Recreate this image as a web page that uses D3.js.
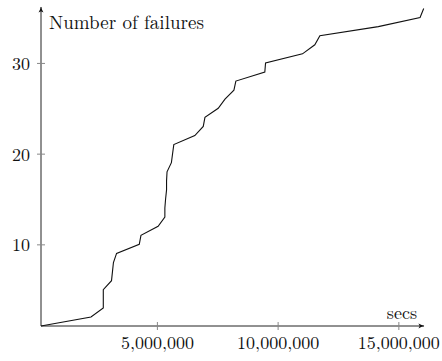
<!DOCTYPE html>
<html>
<head>
<meta charset="utf-8">
<script src="https://cdn.jsdelivr.net/npm/d3@7"></script>
<style>
  body { margin: 0; background: #fff; }
</style>
</head>
<body>
<div id="chart"></div>
<script>
// cumulative failures over time (secs)
var times = [200000, 2270000, 2780000, 2780000, 2780000, 3120000, 3160000, 3200000, 3330000,
             4270000, 4340000, 5050000, 5330000, 5330000, 5360000, 5400000, 5400000, 5420000,
             5600000, 5650000, 5700000, 6570000, 6920000, 6990000, 7540000, 7820000, 8190000,
             8270000, 9470000, 9500000, 11030000, 11540000, 11750000, 14170000, 15900000, 16050000];
var failures = [1, 2, 3, 4, 5, 6, 7, 8, 9, 10, 11, 12, 13, 14, 15, 16, 17, 18,
                19, 20, 21, 22, 23, 24, 25, 26, 27, 28, 29, 30, 31, 32, 33, 34, 35, 36];
var xTicks = [5000000, 10000000, 15000000];
var yTicks = [10, 20, 30];

var font = "'Latin Modern Roman', 'CMU Serif', 'Liberation Serif', serif";
var width = 442, height = 361;

var svg = d3.select("#chart")
    .append("svg")
    .attr("width", width)
    .attr("height", height);

var x = d3.scaleLinear()
    .domain([d3.min(times), d3.max(times)])
    .range([41, 423.7]);

var y = d3.scaleLinear()
    .domain([1, 36])
    .range([326, 8.5]);

var defs = svg.append("defs");
defs.append("marker")
    .attr("id", "arrow")
    .attr("viewBox", "0 0 10 10")
    .attr("refX", 9).attr("refY", 5)
    .attr("markerUnits", "userSpaceOnUse")
    .attr("markerWidth", 7).attr("markerHeight", 7)
    .attr("orient", "auto")
    .append("path")
    .attr("d", "M1,1.5 Q6,4.3 9.5,5 Q6,5.7 1,8.5 L3,5 Z")
    .attr("fill", "#111");

// axis lines with arrows
svg.append("line")
    .attr("x1", 41).attr("y1", 326)
    .attr("x2", 424).attr("y2", 326)
    .attr("stroke", "#222").attr("stroke-width", 1)
    .attr("marker-end", "url(#arrow)");
svg.append("line")
    .attr("x1", 41).attr("y1", 326)
    .attr("x2", 41).attr("y2", 7)
    .attr("stroke", "#222").attr("stroke-width", 1)
    .attr("marker-end", "url(#arrow)");

// x ticks
var xAxis = svg.append("g")
    .attr("transform", "translate(0,326)")
    .call(d3.axisBottom(x).tickValues(xTicks).tickSize(0)
        .tickFormat(d3.format(",")));
xAxis.select(".domain").remove();
xAxis.selectAll(".tick line").remove();
xAxis.selectAll(".tick").append("line")
    .attr("y1", -4).attr("y2", 4)
    .attr("stroke", "#888");
xAxis.selectAll("text")
    .attr("y", 22.7).attr("dy", 0)
    .attr("fill", "#111")
    .style("font-size", "18px")
    .style("font-family", font);

// y ticks
var yAxis = svg.append("g")
    .attr("transform", "translate(41,0)")
    .call(d3.axisLeft(y).tickValues(yTicks).tickSize(0).tickPadding(11));
yAxis.select(".domain").remove();
yAxis.selectAll(".tick line").remove();
yAxis.selectAll(".tick").append("line")
    .attr("x1", -4).attr("x2", 4)
    .attr("stroke", "#888");
yAxis.selectAll("text")
    .attr("dy", "0.36em")
    .attr("fill", "#111")
    .style("font-size", "18px")
    .style("font-family", font);

// axis labels
svg.append("text")
    .attr("x", 49).attr("y", 29)
    .attr("fill", "#111")
    .style("font-size", "19px")
    .style("font-family", font)
    .text("Number of failures");
svg.append("text")
    .attr("x", 417).attr("y", 319.3)
    .attr("text-anchor", "end")
    .attr("fill", "#111")
    .style("font-size", "18px")
    .style("font-family", font)
    .text("secs");

// the line
var line = d3.line()
    .x(function(d, i) { return x(times[i]); })
    .y(function(d) { return y(d); });

svg.append("path")
    .datum(failures)
    .attr("d", line)
    .attr("fill", "none")
    .attr("stroke", "#111")
    .attr("stroke-width", 1.1);
</script>
</body>
</html>
